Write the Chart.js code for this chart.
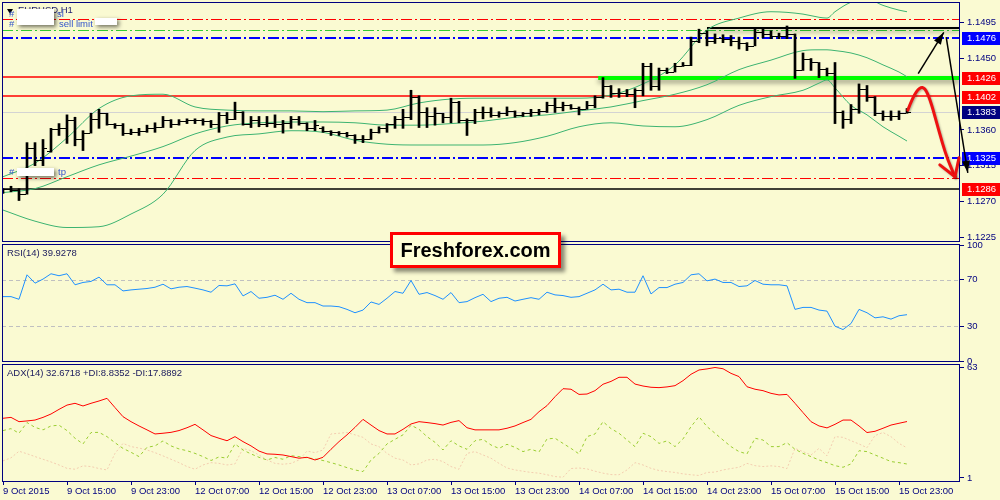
<!DOCTYPE html>
<html><head><meta charset="utf-8"><title>EURUSD H1</title>
<script src="https://cdn.jsdelivr.net/npm/chart.js@4.4.1/dist/chart.umd.min.js"></script>
<style>
html,body{margin:0;padding:0;}
body{width:1000px;height:500px;background:#FAFAD2;position:relative;overflow:hidden;font-family:"Liberation Sans",Arial,sans-serif;}
.pane{position:absolute;left:0;width:1000px;}
.t{position:absolute;font-size:9.5px;line-height:11px;white-space:nowrap;}
.wb{position:absolute;background:#fff;box-shadow:2px 2px 4px rgba(0,0,0,0.55);}
#ff{position:absolute;left:390px;top:232px;width:165px;height:30px;border:3px solid #f00;background:#FFFFD6;box-shadow:4px 4px 4px rgba(0,0,0,0.45);font:bold 20px "Liberation Sans",Arial,sans-serif;color:#000;text-align:center;line-height:30px;}
</style></head>
<body>
<div class="pane" style="top:0;height:250px"><canvas id="priceCv"></canvas></div>
<div class="pane" style="top:238px;height:130px"><canvas id="rsiCv"></canvas></div>
<div class="pane" style="top:362px;height:138px"><canvas id="adxCv"></canvas></div>

<div style="position:absolute;left:7px;top:9px;width:0;height:0;border-left:3px solid transparent;border-right:3px solid transparent;border-top:5px solid #000"></div>
<div class="t" style="left:18px;top:4px;color:#1c1c70">EURUSD,H1</div>
<div class="t" style="left:9px;top:8px;color:#3355cc">#</div>
<div class="t" style="left:57px;top:8px;color:#3355cc">sl</div>
<div class="t" style="left:9px;top:18px;color:#3355cc">#</div>
<div class="t" style="left:59px;top:18px;color:#3355cc">sell limit</div>
<div class="wb" style="left:17px;top:9px;width:37px;height:16px"></div>
<div class="wb" style="left:95px;top:18px;width:22px;height:7px"></div>
<div class="t" style="left:9px;top:166px;color:#3355cc">#</div>
<div class="t" style="left:58px;top:166px;color:#3355cc">tp</div>
<div class="wb" style="left:17px;top:168px;width:37px;height:8px"></div>

<div class="t" style="left:7px;top:247px;color:#202060">RSI(14) 39.9278</div>
<div class="t" style="left:7px;top:367px;color:#202060">ADX(14) 32.6718 +DI:8.8352 -DI:17.8892</div>

<div id="ff">Freshforex.com</div>

<script>
// ---------------- DATA ----------------
const xTickBars = [0,8,16,24,32,40,48,56,64,72,80,88,96,104,112];
const xTickLabels = ['9 Oct 2015','9 Oct 15:00','9 Oct 23:00','12 Oct 07:00','12 Oct 15:00','12 Oct 23:00','13 Oct 07:00','13 Oct 15:00','13 Oct 23:00','14 Oct 07:00','14 Oct 15:00','14 Oct 23:00','15 Oct 07:00','15 Oct 15:00','15 Oct 23:00'];

const openP = [1.1284,1.1285,1.1284,1.1279,1.1337,1.1322,1.1334,1.1361,1.1363,1.1372,
1.1348,1.1356,1.1374,1.1381,1.1367,1.1366,1.1356,1.1358,1.1359,1.1362,
1.1364,1.1372,1.1367,1.1371,1.1373,1.1372,1.1371,1.1367,1.1379,1.1374,
1.1382,1.1368,1.1373,1.1367,1.1369,1.1368,1.1369,1.1374,1.1369,1.1362,
1.1363,1.1359,1.1357,1.1356,1.1353,1.1348,1.1349,1.1358,1.1362,1.1367,
1.1374,1.1376,1.1402,1.1383,1.1378,1.1381,1.1376,1.1395,1.1373,1.1372,
1.1383,1.1383,1.1379,1.1381,1.1384,1.1379,1.1381,1.1383,1.1384,1.1391,
1.1389,1.1391,1.1388,1.1387,1.1392,1.1401,1.1416,1.1406,1.1407,1.1405,
1.1410,1.1441,1.1416,1.1435,1.1433,1.1440,1.1442,1.1472,1.1482,1.1472,
1.1476,1.1475,1.1472,1.1470,1.1466,1.1484,1.1481,1.1479,1.1479,1.1481,
1.1435,1.1450,1.1445,1.1437,1.1432,1.1382,1.1374,1.1387,1.1412,1.1402,
1.1381,1.1378,1.1377,1.1381];
const highP = [1.1286,1.1289,1.1286,1.1344,1.1344,1.1348,1.1362,1.1368,1.1379,1.1376,
1.1359,1.1381,1.1386,1.1381,1.1368,1.1368,1.1361,1.1362,1.1366,1.1369,
1.1377,1.1373,1.1373,1.1374,1.1374,1.1374,1.1372,1.1382,1.1382,1.1395,
1.1383,1.1377,1.1377,1.1377,1.1379,1.1372,1.1377,1.1377,1.1369,1.1372,
1.1364,1.1359,1.1358,1.1357,1.1354,1.1353,1.1361,1.1364,1.1368,1.1377,
1.1386,1.1410,1.1403,1.1388,1.1388,1.1381,1.1400,1.1396,1.1374,1.1386,
1.1389,1.1388,1.1383,1.1389,1.1384,1.1382,1.1386,1.1386,1.1395,1.1400,
1.1395,1.1392,1.1389,1.1396,1.1403,1.1426,1.1416,1.1412,1.1411,1.1412,
1.1444,1.1444,1.1438,1.1438,1.1444,1.1445,1.1477,1.1487,1.1485,1.1481,
1.1480,1.1479,1.1477,1.1470,1.1487,1.1489,1.1485,1.1482,1.1491,1.1481,
1.1457,1.1450,1.1445,1.1438,1.1445,1.1384,1.1392,1.1418,1.1416,1.1402,
1.1384,1.1384,1.1384,1.1387];
const lowP = [1.1280,1.1282,1.1271,1.1279,1.1315,1.1315,1.1332,1.1353,1.1343,1.1340,
1.1334,1.1356,1.1362,1.1366,1.1362,1.1353,1.1354,1.1353,1.1357,1.1357,
1.1363,1.1363,1.1366,1.1368,1.1368,1.1366,1.1363,1.1357,1.1368,1.1373,
1.1366,1.1363,1.1364,1.1364,1.1363,1.1356,1.1362,1.1366,1.1359,1.1359,
1.1357,1.1353,1.1353,1.1351,1.1343,1.1344,1.1348,1.1356,1.1357,1.1362,
1.1362,1.1373,1.1363,1.1363,1.1366,1.1369,1.1369,1.1369,1.1353,1.1368,
1.1374,1.1376,1.1376,1.1378,1.1376,1.1377,1.1377,1.1379,1.1382,1.1382,
1.1384,1.1386,1.1379,1.1386,1.1388,1.1400,1.1401,1.1401,1.1402,1.1388,
1.1403,1.1410,1.1410,1.1431,1.1433,1.1440,1.1441,1.1470,1.1466,1.1469,
1.1470,1.1466,1.1462,1.1460,1.1466,1.1476,1.1475,1.1475,1.1475,1.1425,
1.1435,1.1435,1.1426,1.1428,1.1368,1.1362,1.1368,1.1381,1.1396,1.1378,
1.1372,1.1372,1.1373,1.1381];
const closeP = [1.1285,1.1284,1.1279,1.1337,1.1322,1.1337,1.1361,1.1363,1.1372,1.1348,
1.1356,1.1374,1.1381,1.1367,1.1366,1.1356,1.1358,1.1359,1.1362,1.1364,
1.1372,1.1367,1.1371,1.1373,1.1372,1.1371,1.1367,1.1379,1.1374,1.1382,
1.1368,1.1373,1.1367,1.1369,1.1368,1.1369,1.1374,1.1369,1.1362,1.1366,
1.1359,1.1357,1.1356,1.1353,1.1348,1.1349,1.1358,1.1362,1.1367,1.1374,
1.1376,1.1402,1.1383,1.1378,1.1381,1.1376,1.1395,1.1373,1.1372,1.1383,
1.1383,1.1379,1.1381,1.1384,1.1379,1.1381,1.1383,1.1384,1.1391,1.1389,
1.1391,1.1388,1.1387,1.1392,1.1401,1.1416,1.1406,1.1407,1.1405,1.1410,
1.1441,1.1416,1.1435,1.1433,1.1440,1.1442,1.1472,1.1482,1.1472,1.1476,
1.1475,1.1472,1.1470,1.1466,1.1484,1.1481,1.1479,1.1479,1.1481,1.1435,
1.1450,1.1445,1.1437,1.1432,1.1382,1.1374,1.1387,1.1412,1.1402,1.1381,
1.1378,1.1377,1.1381,1.1383];

const bbIdx   = [0,4,8,12,16,20,24,28,32,36,40,44,48,52,56,60,64,68,72,76,80,84,88,92,96,100,102,103,104,106,108,110,112,113];
const bbUpper = [1.1301,1.1318,1.1350,1.1387,1.1403,1.1405,1.1389,1.1385,1.1384,1.1384,1.1383,1.1384,1.1385,1.1394,1.1399,1.1400,1.1400,1.1400,1.1400,1.1404,1.1418,1.1442,1.1486,1.1501,1.1509,1.1506,1.1502,1.1501,1.1509,1.1521,1.1525,1.1517,1.1511,1.1509];
const bbMid   = [1.1281,1.1286,1.1301,1.1316,1.1327,1.1339,1.1355,1.1365,1.1369,1.1370,1.1370,1.1369,1.1366,1.1366,1.1368,1.1371,1.1376,1.1379,1.1384,1.1389,1.1397,1.1405,1.1417,1.1436,1.1448,1.1460,1.1461,1.1461,1.1460,1.1457,1.1451,1.1442,1.1433,1.1427];
const bbLower = [1.1259,1.1245,1.1237,1.1238,1.1254,1.1279,1.1334,1.1351,1.1355,1.1359,1.1357,1.1347,1.1342,1.1341,1.1341,1.1341,1.1344,1.1352,1.1364,1.1369,1.1365,1.1364,1.1373,1.1391,1.1402,1.1410,1.1419,1.1423,1.1413,1.1391,1.1379,1.1364,1.1352,1.1346];

const rsi = [55.5,55.5,53.2,74.3,67.1,70.6,75.2,73.5,75.2,65.7,
67.7,68.6,72.3,65.7,65.7,60.4,61.3,61.9,62.5,63.6,
66.2,62.2,63.6,64.2,62.8,61.3,59.3,65.1,64.8,66.5,
56.1,59.9,54.1,54.9,56.7,53.2,58.4,53.2,50.3,50.3,
47.4,47.4,46.8,44.5,41.6,43.9,50.9,48.8,54.1,59.9,
58.4,69.4,57.5,59.0,56.4,53.2,59.0,50.3,51.2,54.6,
57.5,51.2,54.1,54.9,51.7,53.2,54.6,53.2,59.3,57.0,
56.4,54.9,55.5,58.4,61.3,66.2,61.3,61.9,59.3,59.3,
73.5,57.8,63.3,63.3,66.2,67.7,74.3,75.2,69.1,70.6,
67.7,67.7,64.2,64.8,69.4,66.2,65.7,65.7,64.8,44.5,
46.2,46.2,43.9,43.0,30.0,27.1,32.3,44.5,41.6,37.2,
38.1,36.1,39.0,39.93];

const adx = [34.5,35.0,32.6,33.0,33.5,35.0,36.9,39.5,41.9,42.9,
41.4,42.9,44.2,45.7,40.5,35.4,32.6,30.2,28.0,25.7,
26.1,26.6,27.6,29.2,31.1,28.0,24.8,23.3,21.9,24.2,
21.4,19.0,16.1,14.5,14.3,13.9,13.0,12.1,12.6,11.1,
12.6,17.1,21.4,25.2,29.4,33.9,30.7,27.6,25.7,25.7,
28.3,31.3,32.6,32.1,31.5,30.7,32.2,33.2,29.2,28.0,
28.0,28.0,28.0,28.9,30.2,32.1,33.9,38.2,41.6,46.6,
51.1,50.8,47.9,48.1,50.0,53.6,55.2,57.5,57.5,53.7,
52.6,51.9,51.7,52.1,52.8,55.6,59.2,61.6,62.2,63.0,
62.3,59.7,57.9,52.2,50.8,50.0,48.5,47.6,47.9,42.9,
37.7,32.6,30.2,29.1,31.1,33.5,33.5,30.2,26.5,27.2,
28.9,30.7,31.7,32.67];
const plusDI = [27.6,28.7,26.1,32.1,29.4,28.0,30.2,30.6,27.6,23.3,
20.1,26.5,26.6,24.2,20.8,17.6,15.4,13.0,18.2,19.0,
21.8,19.0,17.3,16.3,14.8,13.0,10.8,12.8,12.1,20.1,
16.7,14.5,12.6,11.1,12.5,11.5,13.5,13.0,12.3,11.7,
10.8,9.6,8.3,6.8,5.5,4.6,11.1,14.8,20.1,22.7,
25.2,30.6,28.3,24.2,21.0,16.7,21.9,19.0,17.1,21.9,
22.7,19.5,17.6,19.9,18.2,15.8,17.1,15.6,22.9,23.3,
20.4,17.6,14.5,24.2,25.7,32.6,28.7,26.1,22.3,18.6,
26.1,24.2,20.4,21.8,18.6,22.9,29.8,35.4,29.8,26.1,
22.3,18.6,15.8,14.5,23.3,22.3,18.6,18.6,20.8,17.1,
14.8,13.0,11.1,9.6,7.9,7.0,8.9,16.3,15.8,13.9,
12.1,10.2,9.6,8.84];
const minusDI = [10.6,12.3,16.0,14.6,13.0,11.5,10.0,8.3,6.4,5.9,
7.8,7.4,6.3,5.5,14.8,20.4,18.6,17.8,16.7,15.2,
13.4,11.5,9.6,7.4,5.9,8.3,9.6,9.2,8.3,8.9,
17.6,16.3,13.9,11.1,9.2,8.7,9.2,11.1,16.1,15.2,
16.7,25.7,26.1,26.5,25.2,23.8,20.1,18.6,14.8,12.1,
11.1,8.3,8.9,11.1,11.5,10.2,7.4,5.9,14.8,15.8,
13.9,12.1,9.2,6.6,5.5,4.8,4.1,3.7,2.8,1.8,
1.4,6.3,6.6,6.1,4.8,3.7,2.9,2.8,5.5,9.6,
8.3,6.4,5.2,4.6,4.1,3.3,2.8,2.4,4.1,4.3,
5.5,6.3,7.0,9.2,7.9,7.4,7.8,7.4,6.3,17.6,
15.8,13.9,17.6,13.4,24.2,23.8,21.9,20.1,18.0,24.8,
26.5,24.2,20.4,17.89];

const priceTicks = [1.1495,1.1450,1.1360,1.1315,1.1270,1.1225];
const boxValues  = [1.1476,1.1426,1.1402,1.1383,1.1325,1.1286];
const levelValues = [1.1500,1.1486,1.1476,1.1427,1.1403,1.1383,1.1325,1.1300,1.1286];
const zoneValues = [1.1488,1.1426];
const zoneStartBar = [88,74.4];
const rsiTicks = [0,30,70,100];
const rsiLevels = [30,70];
const adxTicks = [1,63];

// hand drawn arrows (bar index, price)
const arrowUp   = [[114.4,1.1431],[117.6,1.1483]];
const arrowDown = [[117.9,1.1477],[120.6,1.1306]];
const redPath = [[113.1,1.1385],[113.75,1.1402],[114.6,1.1414],[115.25,1.1413],[115.9,1.1398],[116.6,1.1373],[117.4,1.1344],[118.1,1.1322],[119.0,1.1301]];
const redHead = [[117.1,1.1316],[119.5,1.1325]];

// ---------------- STYLES ----------------
const NAVY = '#000080';
const BB = '#3CB371';
const FONT = '"Liberation Sans", Arial, sans-serif';
const DD = [11,3,2,3];
const levelStyles = [
  {c:'#FF0000', d:DD, w:1},
  {c:'#32CD32', d:DD, w:1},
  {c:'#0000FF', d:DD, w:2},
  {c:'#FF0000', d:[], w:1.3},
  {c:'#FF0000', d:[], w:1.3},
  {c:'#D3D3D3', d:[], w:1},
  {c:'#0000FF', d:DD, w:2},
  {c:'#FF0000', d:DD, w:1},
  {c:'#000000', d:[], w:1.5}
];
const zoneStyles = [{c:'#000000', w:2}, {c:'#00FF00', w:4}];
const boxColors = ['#0000FF','#FF0000','#FF0000','#000080','#0000FF','#FF0000'];

Chart.defaults.font.family = FONT;
Chart.defaults.font.size = 9.5;
Chart.defaults.color = NAVY;

const barIdx = openP.map((_, i) => i);
const pts = (xs, ys) => xs.map((x, k) => ({x, y: ys[k]}));

function hiddenX() {
  return {type:'linear', min:-0.125, max:119.625, offset:false, display:false, grid:{offset:false}};
}
function yAxis(min, max, ticks, fmt) {
  return {
    type:'linear', position:'right', min, max,
    afterFit(s){ s.width = 40; s.paddingTop = 0; s.paddingBottom = 0; },
    afterBuildTicks(s){ s.ticks = ticks.map(v => ({value:v})); },
    ticks:{autoSkip:false, padding:3, color:NAVY, callback:fmt},
    grid:{drawOnChartArea:false, drawTicks:true, tickLength:4, color:NAVY},
    border:{display:false}
  };
}
function framePlugin() {
  return {id:'frame', afterDraw(c){
    const a = c.chartArea, ctx = c.ctx;
    ctx.save(); ctx.strokeStyle = NAVY; ctx.lineWidth = 1;
    ctx.strokeRect(Math.round(a.left)+0.5, Math.round(a.top)-0.5, Math.round(a.right-a.left)-1, Math.round(a.bottom-a.top)+1);
    ctx.restore();
  }};
}
function clipArea(ctx, a){ ctx.beginPath(); ctx.rect(a.left, a.top, a.right-a.left, a.bottom-a.top); ctx.clip(); }

// ---------------- PRICE PANEL ----------------
const levelsPlugin = {id:'levels', beforeDatasetsDraw(c){
  const ctx = c.ctx, a = c.chartArea, xs = c.scales.x, ys = c.scales.y;
  ctx.save(); clipArea(ctx, a);
  levelValues.forEach((v, k) => {
    const st = levelStyles[k];
    let y = Math.round(ys.getPixelForValue(v)); if (st.w % 2 === 1) y += 0.5;
    ctx.strokeStyle = st.c; ctx.lineWidth = st.w; ctx.setLineDash(st.d);
    ctx.beginPath(); ctx.moveTo(a.left, y); ctx.lineTo(a.right, y); ctx.stroke();
  });
  ctx.setLineDash([]);
  zoneValues.forEach((v, k) => {
    const st = zoneStyles[k];
    const y = Math.round(ys.getPixelForValue(v)), x0 = xs.getPixelForValue(zoneStartBar[k]);
    ctx.save();
    ctx.shadowColor = 'rgba(0,0,0,0.4)'; ctx.shadowBlur = 5; ctx.shadowOffsetY = 3;
    ctx.strokeStyle = st.c; ctx.lineWidth = st.w;
    ctx.beginPath(); ctx.moveTo(x0, y); ctx.lineTo(a.right, y); ctx.stroke();
    ctx.restore();
  });
  ctx.restore();
}};

const ohlcTicks = {id:'ohlcTicks', afterDatasetsDraw(c){
  const ctx = c.ctx, a = c.chartArea, xs = c.scales.x, ys = c.scales.y;
  ctx.save(); clipArea(ctx, a); ctx.fillStyle = '#000';
  barIdx.forEach(i => {
    const px = Math.round(xs.getPixelForValue(i));
    const yo = Math.round(ys.getPixelForValue(openP[i]));
    const yc = Math.round(ys.getPixelForValue(closeP[i]));
    ctx.fillRect(px-4, yo, 3, 1);
    ctx.fillRect(px+1, yc, 3, 1);
  });
  ctx.restore();
}};

const boxLabels = {id:'boxLabels', afterDraw(c){
  const ctx = c.ctx, a = c.chartArea, ys = c.scales.y;
  ctx.save(); ctx.font = '9.5px ' + FONT; ctx.textBaseline = 'middle'; ctx.textAlign = 'left';
  boxValues.forEach((v, k) => {
    const y = Math.round(ys.getPixelForValue(v));
    ctx.fillStyle = boxColors[k];
    ctx.fillRect(a.right+2, y-6, 1000-a.right-2, 13);
    ctx.fillStyle = '#fff';
    ctx.fillText(v.toFixed(4), a.right+7, y+0.5);
  });
  ctx.restore();
}};

function arrowHead(ctx, a, b, len, w) {
  const ang = Math.atan2(b[1]-a[1], b[0]-a[0]);
  const bx = b[0] - len*Math.cos(ang), by = b[1] - len*Math.sin(ang);
  ctx.beginPath();
  ctx.moveTo(b[0], b[1]);
  ctx.lineTo(bx - w*Math.sin(ang), by + w*Math.cos(ang));
  ctx.lineTo(bx + w*Math.sin(ang), by - w*Math.cos(ang));
  ctx.closePath(); ctx.fill();
}
const arrowsPlugin = {id:'arrows', afterDraw(c){
  const ctx = c.ctx, xs = c.scales.x, ys = c.scales.y;
  const P = p => [xs.getPixelForValue(p[0]), ys.getPixelForValue(p[1])];
  ctx.save();
  ctx.strokeStyle = '#000'; ctx.fillStyle = '#000'; ctx.lineWidth = 1.5;
  [arrowUp, arrowDown].forEach(seg => {
    const a = P(seg[0]), b = P(seg[1]);
    ctx.beginPath(); ctx.moveTo(a[0], a[1]); ctx.lineTo(b[0], b[1]); ctx.stroke();
    arrowHead(ctx, a, b, 12, 4);
  });
  const p = redPath.map(P);
  ctx.shadowColor = 'rgba(0,0,0,0.3)'; ctx.shadowBlur = 2; ctx.shadowOffsetX = 1; ctx.shadowOffsetY = 1;
  ctx.strokeStyle = '#EE1111'; ctx.lineWidth = 3; ctx.lineCap = 'round'; ctx.lineJoin = 'round';
  ctx.beginPath(); ctx.moveTo(p[0][0], p[0][1]);
  for (let i = 1; i < p.length-1; i++) {
    const mx = (p[i][0]+p[i+1][0])/2, my = (p[i][1]+p[i+1][1])/2;
    ctx.quadraticCurveTo(p[i][0], p[i][1], mx, my);
  }
  ctx.lineTo(p[p.length-1][0], p[p.length-1][1]); ctx.stroke();
  const tip = p[p.length-1];
  redHead.forEach(h => { const q = P(h); ctx.beginPath(); ctx.moveTo(q[0], q[1]); ctx.lineTo(tip[0], tip[1]); ctx.stroke(); });
  ctx.restore();
}};

new Chart(document.getElementById('priceCv'), {
  type:'bar',
  data:{datasets:[
    {type:'bar', data: barIdx.map(i => ({x:i, y:[lowP[i], highP[i]]})), backgroundColor:'#000', borderWidth:0, barThickness:2, grouped:false},
    {type:'line', data: pts(bbIdx, bbUpper), borderColor:BB, borderWidth:1, pointRadius:0, cubicInterpolationMode:'monotone'},
    {type:'line', data: pts(bbIdx, bbMid), borderColor:BB, borderWidth:1, pointRadius:0, cubicInterpolationMode:'monotone'},
    {type:'line', data: pts(bbIdx, bbLower), borderColor:BB, borderWidth:1, pointRadius:0, cubicInterpolationMode:'monotone'}
  ]},
  options:{
    animation:false, responsive:true, maintainAspectRatio:false, devicePixelRatio:1,
    layout:{padding:{left:2, right:0, top:3, bottom:9}},
    plugins:{legend:{display:false}, tooltip:{enabled:false}},
    scales:{ x: hiddenX(), y: yAxis(1.1220, 1.1520, priceTicks, v => Number(v).toFixed(4)) }
  },
  plugins:[levelsPlugin, ohlcTicks, framePlugin(), boxLabels, arrowsPlugin]
});

// ---------------- RSI PANEL ----------------
const rsiLevelPlugin = {id:'rsiLevels', beforeDatasetsDraw(c){
  const ctx = c.ctx, a = c.chartArea, ys = c.scales.y;
  ctx.save(); ctx.strokeStyle = '#C0C0C0'; ctx.lineWidth = 1; ctx.setLineDash([4,3]);
  rsiLevels.forEach(v => { const y = Math.round(ys.getPixelForValue(v)) + 0.5;
    ctx.beginPath(); ctx.moveTo(a.left, y); ctx.lineTo(a.right, y); ctx.stroke(); });
  ctx.restore();
}};
new Chart(document.getElementById('rsiCv'), {
  type:'line',
  data:{datasets:[
    {data: pts(barIdx, rsi), borderColor:'#1E90FF', borderWidth:1, pointRadius:0, tension:0}
  ]},
  options:{
    animation:false, responsive:true, maintainAspectRatio:false, devicePixelRatio:1,
    layout:{padding:{left:2, right:0, top:7, bottom:7}},
    plugins:{legend:{display:false}, tooltip:{enabled:false}},
    scales:{ x: hiddenX(), y: yAxis(0, 100, rsiTicks, v => String(v)) }
  },
  plugins:[rsiLevelPlugin, framePlugin()]
});

// ---------------- ADX PANEL ----------------
new Chart(document.getElementById('adxCv'), {
  type:'line',
  data:{datasets:[
    {data: pts(barIdx, adx), borderColor:'#FF0000', borderWidth:1, pointRadius:0, tension:0},
    {data: pts(barIdx, plusDI), borderColor:'#9ACD32', borderWidth:1, borderDash:[3,3], pointRadius:0, tension:0},
    {data: pts(barIdx, minusDI), borderColor:'#F3CDB0', borderWidth:1, borderDash:[2,2], pointRadius:0, tension:0}
  ]},
  options:{
    animation:false, responsive:true, maintainAspectRatio:false, devicePixelRatio:1,
    layout:{padding:{left:2, right:0, top:3, bottom:1}},
    plugins:{legend:{display:false}, tooltip:{enabled:false}},
    scales:{
      x:{type:'linear', position:'bottom', min:-0.125, max:119.625, offset:false,
         afterFit(s){ s.height = 18; s.paddingLeft = 0; s.paddingRight = 0; },
         afterBuildTicks(s){ s.ticks = xTickBars.map(v => ({value:v})); },
         ticks:{autoSkip:false, maxRotation:0, minRotation:0, align:'start', padding:1, color:NAVY,
                callback:(v, i) => xTickLabels[i]},
         grid:{drawOnChartArea:false, drawTicks:true, tickLength:4, color:NAVY, offset:false},
         border:{display:false}},
      y: yAxis(-0.7, 64.4, adxTicks, v => String(v))
    }
  },
  plugins:[framePlugin()]
});
</script>
</body></html>
